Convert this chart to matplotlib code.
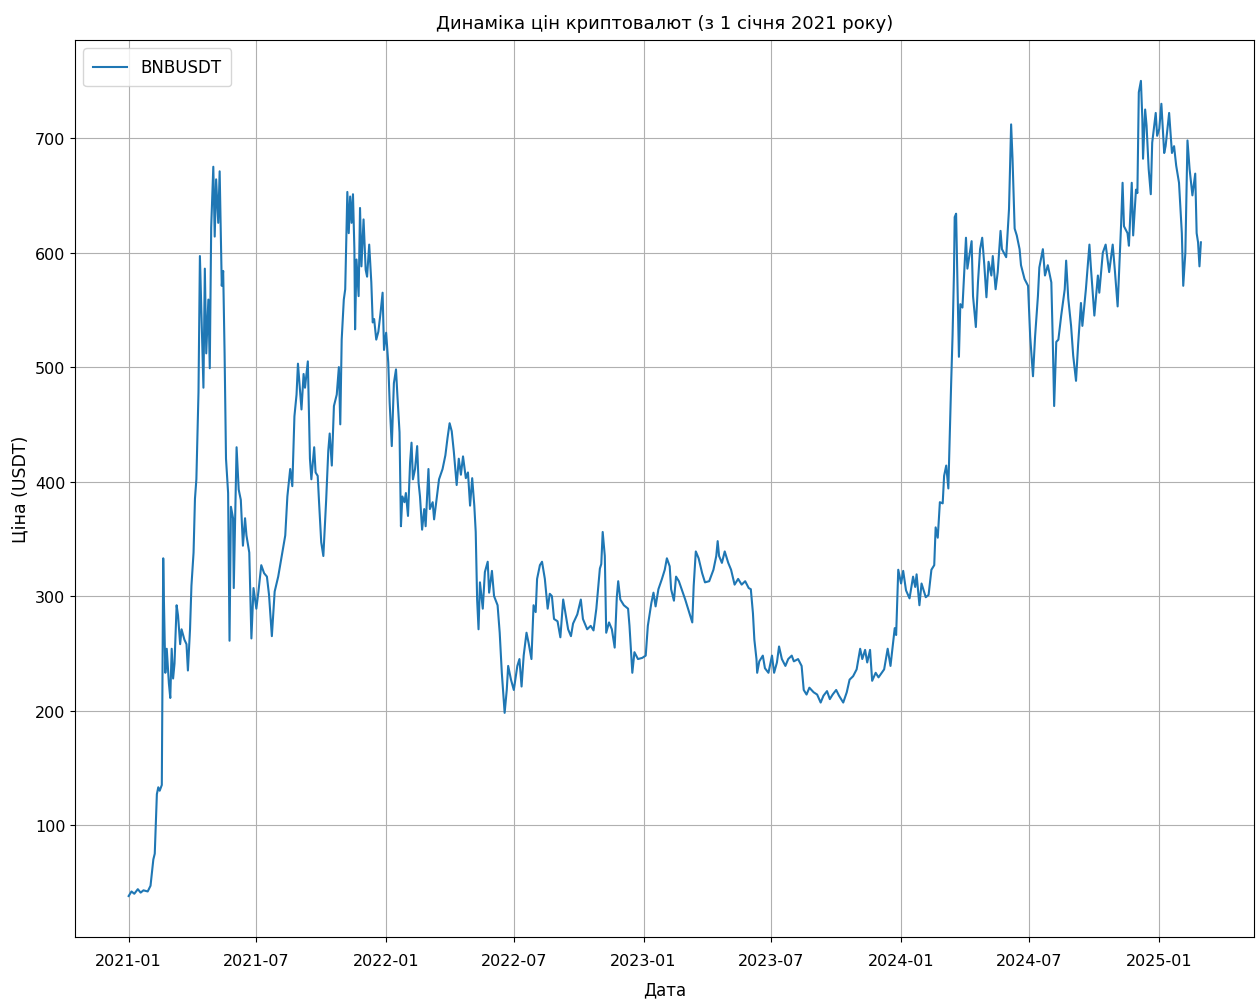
import numpy as np
import pandas as pd
import matplotlib
matplotlib.use("Agg")
import matplotlib.pyplot as plt

# BNBUSDT close (days since 2021-01-01, price in USDT)
day_offsets = [
    0, 4, 8, 13, 17, 21, 27, 31, 35, 37, 40, 42, 44, 47, 49, 50, 52, 54, 57, 59,
    61, 63, 65, 68, 70, 73, 75, 79, 82, 84, 87, 89, 92, 94, 96, 99, 101, 103, 106, 108,
    110, 113, 115, 117, 120, 122, 124, 127, 129, 132, 134, 136, 138, 141, 143, 145, 148, 149, 153, 156,
    159, 162, 165, 167, 171, 174, 177, 181, 184, 188, 192, 196, 199, 203, 207, 212, 217, 222, 225, 229,
    232, 235, 238, 240, 243, 245, 248, 250, 254, 257, 259, 263, 265, 268, 270, 273, 276, 280, 283, 285,
    288, 291, 295, 298, 300, 302, 305, 307, 310, 312, 314, 316, 318, 320, 321, 323, 326, 328, 330, 333,
    336, 338, 341, 344, 346, 348, 351, 354, 357, 360, 362, 365, 368, 370, 373, 376, 379, 381, 384, 385,
    386, 388, 391, 393, 396, 399, 401, 403, 406, 409, 411, 413, 416, 419, 421, 425, 427, 431, 433, 437,
    440, 445, 449, 452, 455, 458, 461, 465, 468, 471, 474, 478, 481, 484, 487, 490, 492, 494, 496, 498,
    502, 505, 509, 511, 515, 518, 523, 526, 529, 531, 533, 536, 538, 542, 546, 551, 554, 557, 560, 564,
    567, 571, 574, 577, 579, 583, 586, 590, 594, 597, 600, 603, 608, 612, 616, 619, 623, 627, 630, 636,
    641, 644, 650, 655, 659, 663, 668, 670, 672, 675, 677, 681, 685, 689, 692, 694, 697, 702, 708, 710,
    714, 717, 722, 728, 733, 736, 741, 744, 747, 751, 756, 760, 763, 767, 769, 773, 776, 780, 784, 789,
    794, 799, 801, 804, 808, 813, 817, 823, 829, 833, 835, 837, 841, 845, 850, 854, 859, 864, 869, 874,
    879, 882, 885, 887, 890, 891, 894, 899, 902, 907, 912, 915, 919, 922, 926, 931, 935, 940, 943, 949,
    954, 957, 961, 965, 971, 976, 981, 985, 990, 994, 998, 1003, 1007, 1013, 1018, 1022, 1027, 1032, 1037, 1040,
    1044, 1047, 1051, 1054, 1059, 1063, 1071, 1076, 1080, 1086, 1088, 1091, 1095, 1098, 1102, 1107, 1112, 1115, 1117, 1121,
    1124, 1130, 1134, 1138, 1142, 1144, 1147, 1150, 1154, 1156, 1159, 1162, 1163, 1166, 1168, 1170, 1171, 1173, 1175, 1177,
    1179, 1182, 1185, 1187, 1189, 1195, 1197, 1201, 1204, 1207, 1210, 1213, 1216, 1219, 1223, 1225, 1229, 1232, 1236, 1238,
    1244, 1248, 1251, 1253, 1256, 1259, 1263, 1265, 1270, 1275, 1278, 1282, 1285, 1289, 1291, 1296, 1299, 1303, 1308, 1310,
    1312, 1315, 1318, 1322, 1327, 1329, 1332, 1336, 1339, 1343, 1346, 1350, 1352, 1357, 1362, 1364, 1369, 1374, 1376, 1381,
    1385, 1390, 1395, 1398, 1402, 1407, 1409, 1411, 1416, 1418, 1422, 1424, 1428, 1430, 1432, 1435, 1437, 1438, 1441, 1443,
    1446, 1449, 1451, 1456, 1458, 1461, 1464, 1468, 1470, 1475, 1479, 1482, 1485, 1489, 1493, 1495, 1498, 1501, 1504, 1508,
    1512, 1514, 1516, 1518, 1520,
]
prices = [
    38, 42, 40, 44, 41, 43, 42, 47, 70, 75, 127, 133, 130, 135, 333, 296, 233, 254, 224, 211,
    254, 228, 241, 292, 283, 258, 271, 262, 258, 235, 271, 309, 338, 385, 402, 478, 597, 550, 482, 586,
    512, 559, 499, 622, 675, 614, 664, 626, 671, 571, 584, 512, 420, 390, 261, 378, 368, 307, 430, 393,
    384, 344, 368, 353, 338, 263, 307, 289, 304, 327, 320, 317, 301, 265, 304, 317, 335, 353, 387, 411,
    396, 457, 476, 503, 479, 463, 494, 482, 505, 420, 402, 430, 408, 405, 381, 347, 335, 384, 427, 442,
    414, 466, 476, 500, 450, 524, 559, 568, 653, 617, 649, 626, 651, 603, 533, 594, 562, 639, 588, 629,
    585, 579, 607, 574, 539, 542, 524, 531, 547, 565, 515, 530, 504, 469, 431, 486, 498, 475, 443, 399,
    361, 387, 382, 390, 370, 417, 434, 402, 411, 431, 399, 387, 358, 376, 361, 411, 376, 382, 367, 387,
    402, 411, 423, 438, 451, 444, 426, 397, 420, 406, 422, 403, 408, 379, 403, 379, 356, 297, 271, 312,
    289, 321, 330, 303, 322, 300, 292, 268, 233, 215, 198, 218, 239, 227, 218, 239, 245, 221, 248, 268,
    259, 245, 292, 286, 315, 327, 330, 315, 289, 302, 300, 280, 278, 264, 297, 286, 271, 265, 276, 284,
    297, 280, 271, 274, 270, 289, 324, 328, 356, 335, 268, 277, 271, 255, 299, 313, 297, 292, 289, 274,
    233, 251, 245, 246, 248, 274, 294, 303, 291, 306, 315, 323, 333, 326, 306, 296, 317, 313, 306, 297,
    287, 277, 309, 339, 333, 320, 312, 313, 323, 335, 348, 335, 329, 339, 329, 323, 310, 315, 310, 313,
    307, 306, 285, 262, 245, 233, 243, 248, 237, 233, 248, 233, 242, 256, 245, 239, 245, 248, 243, 245,
    239, 218, 214, 220, 216, 214, 207, 213, 217, 210, 214, 218, 213, 207, 216, 227, 230, 236, 254, 245,
    253, 242, 253, 226, 233, 229, 236, 254, 239, 272, 266, 323, 311, 322, 305, 298, 317, 308, 319, 292,
    311, 299, 301, 323, 327, 360, 351, 382, 381, 405, 414, 394, 417, 486, 528, 583, 631, 634, 573, 509,
    555, 552, 589, 613, 586, 610, 562, 535, 574, 603, 613, 589, 561, 592, 580, 597, 568, 583, 619, 603,
    596, 638, 712, 682, 621, 615, 603, 589, 577, 571, 527, 492, 527, 562, 587, 603, 580, 589, 574, 524,
    466, 522, 524, 545, 568, 593, 560, 536, 510, 488, 520, 556, 536, 568, 607, 588, 545, 580, 565, 600,
    607, 583, 607, 585, 553, 626, 661, 623, 617, 606, 661, 615, 655, 652, 740, 750, 717, 682, 725, 711,
    673, 651, 696, 722, 702, 708, 730, 687, 693, 722, 687, 693, 676, 661, 617, 571, 600, 698, 673, 650,
    669, 617, 609, 588, 609,
]

dates = pd.Timestamp("2021-01-01") + pd.to_timedelta(day_offsets, unit="D")

fig = plt.figure(figsize=(12.57, 10.03), dpi=100)
ax = fig.add_subplot(111)
fig.subplots_adjust(left=0.0597, right=0.998, bottom=0.065, top=0.959)

ax.plot(dates, prices, label="BNBUSDT", color="#1f77b4", linewidth=1.5)

ax.set_title("Динаміка цін криптовалют (з 1 січня 2021 року)", fontsize=13, pad=9)
ax.set_xlabel("Дата", fontsize=12, labelpad=9)
ax.set_ylabel("Ціна (USDT)", fontsize=12.5)
ax.tick_params(labelsize=11.5)
ax.tick_params(axis="x", pad=8)
ax.legend(loc="upper left", fontsize=12, borderpad=0.6)
ax.grid(True)

fig.savefig("out.png", dpi=100)
